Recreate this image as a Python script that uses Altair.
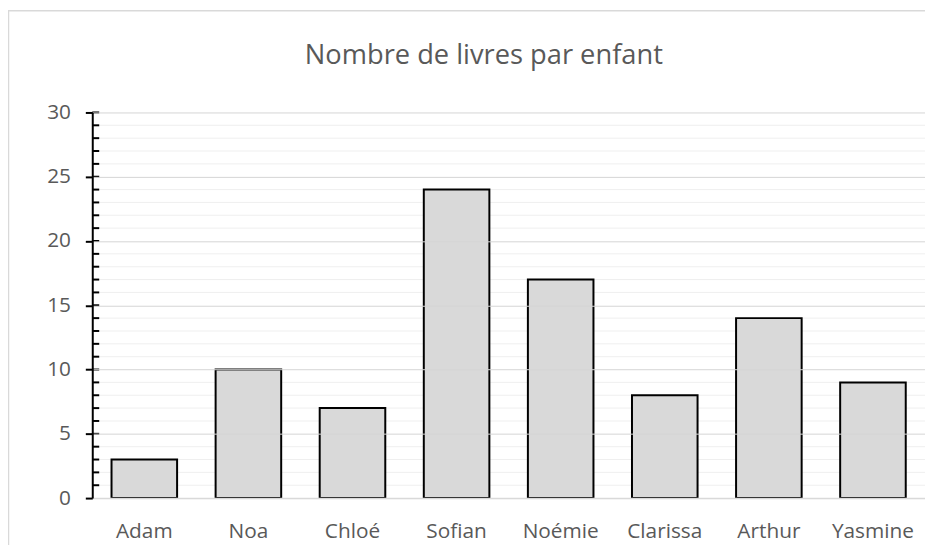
import altair as alt
import pandas as pd

names = ["Adam", "Noa", "Chloé", "Sofian", "Noémie", "Clarissa", "Arthur", "Yasmine"]
values = [3, 10, 7, 24, 17, 8, 14, 9]
major_ticks = [0, 5, 10, 15, 20, 25, 30]
minor_lines = [v for v in range(1, 30) if v % 5 != 0]
inside_ticks = list(range(1, 31))

FONT = "Open Sans"
TXT = "#595959"
W, H = 840, 389

bars_df = pd.DataFrame({"name": names, "value": values})
minor_df = pd.DataFrame({"value": minor_lines})
inside_df = pd.DataFrame({"value": inside_ticks})

y_enc = alt.Y(
    "value:Q",
    scale=alt.Scale(domain=[0, 30], nice=False),
    axis=alt.Axis(
        title=None, values=major_ticks, grid=True, gridColor="#d4d4d4", gridWidth=1,
        domainColor="black", domainWidth=2, tickColor="black", tickSize=7, tickWidth=2,
        labelPadding=15, labelFont=FONT, labelFontSize=21, labelColor=TXT, zindex=1,
    ),
)

minor = alt.Chart(minor_df).mark_rule(color="#efefef", strokeWidth=1).encode(
    y=alt.Y("value:Q")
)

bars = alt.Chart(bars_df).mark_bar(
    fill="#d9d9d9", stroke="black", strokeWidth=2
).encode(
    x=alt.X(
        "name:N", sort=names,
        scale=alt.Scale(paddingInner=0.37, paddingOuter=0.185),
        axis=alt.Axis(
            title=None, labelAngle=0, ticks=False, tickSize=0, labelPadding=23,
            domain=True, domainColor="#d9d9d9", domainWidth=1.5, zindex=1,
            labelFont=FONT, labelFontSize=21, labelColor=TXT,
        ),
    ),
    y=y_enc,
)

ticks_in = alt.Chart(inside_df).mark_rule(color="black", strokeWidth=2).encode(
    y=alt.Y("value:Q"), x=alt.value(0), x2=alt.value(7)
)

one = alt.Data(values=[{}])
border_left = alt.Chart(one).mark_rule(color="#d9d9d9", strokeWidth=1.5).encode(
    x=alt.value(-84.5), y=alt.value(-102.5), y2=alt.value(460)
)
border_top = alt.Chart(one).mark_rule(color="#d9d9d9", strokeWidth=1.5).encode(
    x=alt.value(-85), x2=alt.value(W + 10), y=alt.value(-102.5)
)

chart = alt.layer(minor, bars, ticks_in, border_left, border_top).properties(
    width=W, height=H,
    autosize=alt.AutoSizeParams(type="none"),
    padding={"left": 85, "top": 103, "right": 0, "bottom": 50},
    title=alt.TitleParams(
        "Nombre de livres par enfant", font=FONT, fontSize=27.5, fontWeight="normal",
        color=TXT, anchor="middle", frame="group", dx=-25, offset=-60,
    ),
).configure_view(stroke=None)

chart.save("out.html", embed_options={"renderer": "svg", "actions": False})
